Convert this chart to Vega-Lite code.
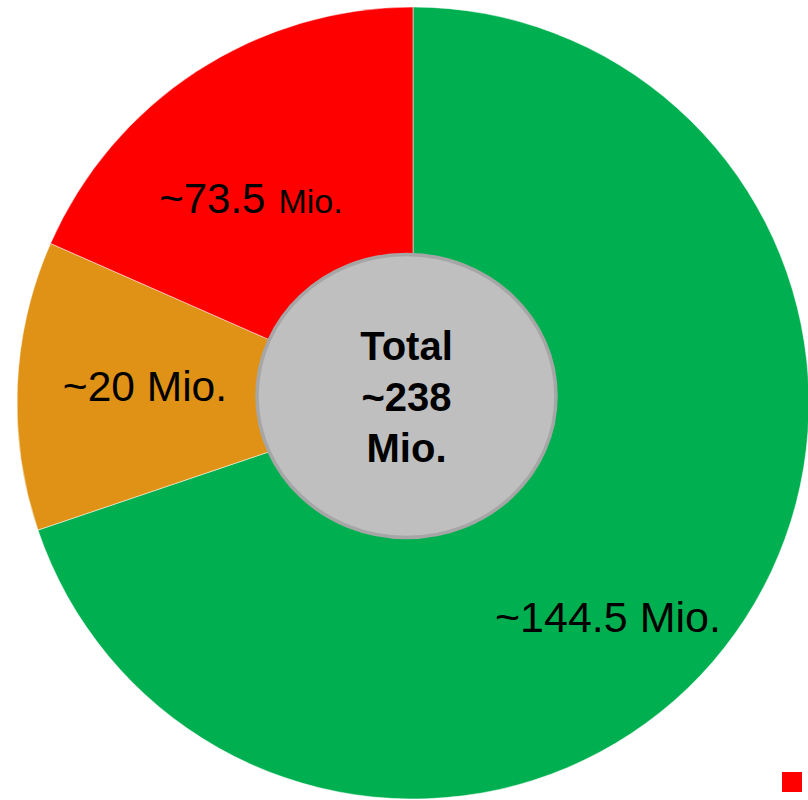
{
  "$schema": "https://vega.github.io/schema/vega-lite/v6.json",
  "autosize": {"type": "none"},
  "width": 792,
  "height": 792,
  "padding": {"left": 17, "top": 7, "right": 0, "bottom": 0},
  "background": "white",
  "config": {"view": {"stroke": null}, "font": "Liberation Sans"},
  "data": {
    "values": [
      {"segment": "green", "share": 69.8, "order": 1, "label": "~144.5 Mio.", "num": "~144.5", "unit": "Mio."},
      {"segment": "orange", "share": 11.8, "order": 2, "label": "~20 Mio.", "num": "~20", "unit": "Mio."},
      {"segment": "red", "share": 18.4, "order": 3, "label": "~73.5 Mio.", "num": "~73.5", "unit": "Mio."}
    ]
  },
  "layer": [
    {
      "mark": {"type": "arc", "stroke": "white", "strokeWidth": 0.5},
      "encoding": {
        "theta": {"field": "share", "type": "quantitative", "stack": true},
        "order": {"field": "order", "type": "quantitative"},
        "color": {
          "field": "segment",
          "type": "nominal",
          "scale": {"domain": ["green", "orange", "red"], "range": ["#00B050", "#DF9215", "#FF0000"]},
          "legend": {
            "values": ["red"],
            "orient": "bottom-right",
            "title": null,
            "labelExpr": "''",
            "labelFontSize": 1,
            "labelOffset": 0,
            "symbolType": "square",
            "symbolSize": 400,
            "symbolStrokeWidth": 0,
            "symbolOpacity": 1,
            "padding": 0,
            "offset": 7
          }
        }
      }
    },
    {
      "data": {"values": [{"item": "total"}]},
      "mark": {
        "type": "point",
        "shape": "M-1,0A1,0.9465,0,1,1,1,0A1,0.9465,0,1,1,-1,0Z",
        "size": 89401,
        "filled": true,
        "fill": "#BFBFBF",
        "fillOpacity": 1,
        "stroke": "#A6A6A6",
        "strokeOpacity": 1,
        "strokeWidth": 3.5,
        "xOffset": -6.5,
        "yOffset": -7
      },
      "encoding": {}
    },
    {
      "data": {"values": [{"text": "Total\n~238\nMio."}]},
      "mark": {
        "type": "text",
        "lineBreak": "\n",
        "fontSize": 40,
        "fontWeight": "bold",
        "lineHeight": 51,
        "align": "center",
        "baseline": "alphabetic",
        "dx": -6.5,
        "dy": -43,
        "color": "black"
      },
      "encoding": {"text": {"field": "text"}}
    },
    {
      "mark": {"type": "text", "radius": 270, "fontSize": 43, "align": "center", "baseline": "alphabetic", "dx": -24.5, "dy": 71.9, "color": "black"},
      "encoding": {
        "theta": {"field": "share", "type": "quantitative", "stack": true},
        "order": {"field": "order", "type": "quantitative"},
        "text": {"condition": {"test": "datum.segment === 'green'", "field": "label"}, "value": ""}
      }
    },
    {
      "mark": {"type": "text", "radius": 270, "fontSize": 42.5, "align": "center", "baseline": "alphabetic", "dx": 1.7, "dy": 9.6, "color": "black"},
      "encoding": {
        "theta": {"field": "share", "type": "quantitative", "stack": true},
        "order": {"field": "order", "type": "quantitative"},
        "text": {"condition": {"test": "datum.segment === 'orange'", "field": "label"}, "value": ""}
      }
    },
    {
      "mark": {"type": "text", "radius": 270, "fontSize": 42, "align": "right", "baseline": "alphabetic", "dx": 0, "dy": 36.1, "color": "black"},
      "encoding": {
        "theta": {"field": "share", "type": "quantitative", "stack": true},
        "order": {"field": "order", "type": "quantitative"},
        "text": {"condition": {"test": "datum.segment === 'red'", "field": "num"}, "value": ""}
      }
    },
    {
      "mark": {"type": "text", "radius": 270, "fontSize": 34, "align": "left", "baseline": "alphabetic", "dx": 13, "dy": 36.1, "color": "black"},
      "encoding": {
        "theta": {"field": "share", "type": "quantitative", "stack": true},
        "order": {"field": "order", "type": "quantitative"},
        "text": {"condition": {"test": "datum.segment === 'red'", "field": "unit"}, "value": ""}
      }
    }
  ]
}
